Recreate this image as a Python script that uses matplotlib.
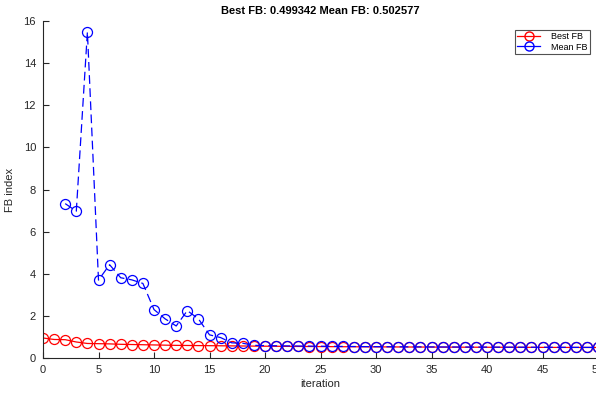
import numpy as np
import matplotlib
matplotlib.use("Agg")
import matplotlib.pyplot as plt
from matplotlib.lines import Line2D

plt.rcParams['font.family'] = ['Liberation Sans', 'DejaVu Sans']

iters = list(range(0, 51))

best_fb = [0.95, 0.88, 0.87, 0.76, 0.69, 0.68, 0.67, 0.65, 0.64, 0.63,
           0.62, 0.61, 0.60, 0.595, 0.59, 0.585, 0.58, 0.575, 0.57, 0.565,
           0.56, 0.556, 0.552, 0.548, 0.545, 0.542, 0.539, 0.536, 0.533, 0.530,
           0.528, 0.526, 0.524, 0.522, 0.520, 0.518, 0.516, 0.515, 0.513, 0.512,
           0.510, 0.509, 0.508, 0.507, 0.506, 0.504, 0.503, 0.502, 0.501, 0.500,
           0.499342]

mean_fb = [np.nan, np.nan, 7.33, 6.97, 15.48, 3.70, 4.43, 3.81, 3.71, 3.54,
           2.30, 1.86, 1.52, 2.25, 1.86, 1.10, 0.97, 0.72, 0.70, 0.60,
           0.59, 0.58, 0.575, 0.568, 0.563, 0.558, 0.553, 0.549, 0.545, 0.541,
           0.538, 0.535, 0.532, 0.530, 0.528, 0.526, 0.524, 0.522, 0.520, 0.518,
           0.517, 0.515, 0.514, 0.512, 0.511, 0.510, 0.508, 0.507, 0.505, 0.504,
           0.502577]

fig = plt.figure(figsize=(5.96, 3.93), dpi=100)
ax = fig.add_axes([43/596, 1 - 358/393, 555/596, 337/393])

ax.plot(iters, best_fb, color='red', marker='o', mfc='none', ms=7.2,
        mew=0.9, lw=0.9)
ax.plot(iters, mean_fb, color='blue', marker='o', mfc='none', ms=7.2,
        mew=0.9, lw=0.9, dashes=(7, 3.5))

ax.set_xlim(0, 50)
ax.set_ylim(0, 16)
ax.set_xticks(range(0, 51, 5))
ax.set_yticks(range(0, 17, 2))

gray = '#262626'
for s in ['top', 'right']:
    ax.spines[s].set_visible(False)
for s in ['left', 'bottom']:
    ax.spines[s].set_color(gray)
    ax.spines[s].set_linewidth(0.8)
ax.tick_params(direction='in', length=4, width=0.8, colors=gray,
               labelsize=8, pad=5)

ax.set_xlabel('iteration', fontsize=8, color=gray, labelpad=3)
ax.set_ylabel('FB index', fontsize=8, color=gray, labelpad=6)
ax.set_title('Best FB: 0.499342 Mean FB: 0.502577', fontsize=8,
             fontweight='bold', pad=5)

# legend shows plain solid lines for both series
handles = [Line2D([], [], color='red', marker='o', mfc='none', ms=6.5, lw=0.9),
           Line2D([], [], color='blue', marker='o', mfc='none', ms=6.5, lw=0.9)]
leg = ax.legend(handles, ['Best FB', 'Mean FB'], loc='upper right',
                bbox_to_anchor=(590/596, 1 - 30/393), bbox_transform=fig.transFigure,
                fontsize=6.5, frameon=True, fancybox=False, edgecolor=gray,
                handlelength=2.6, borderpad=0.25, labelspacing=0.15,
                handletextpad=1.2, borderaxespad=0)
leg.get_frame().set_linewidth(0.8)

fig.savefig('out.png', dpi=100)
